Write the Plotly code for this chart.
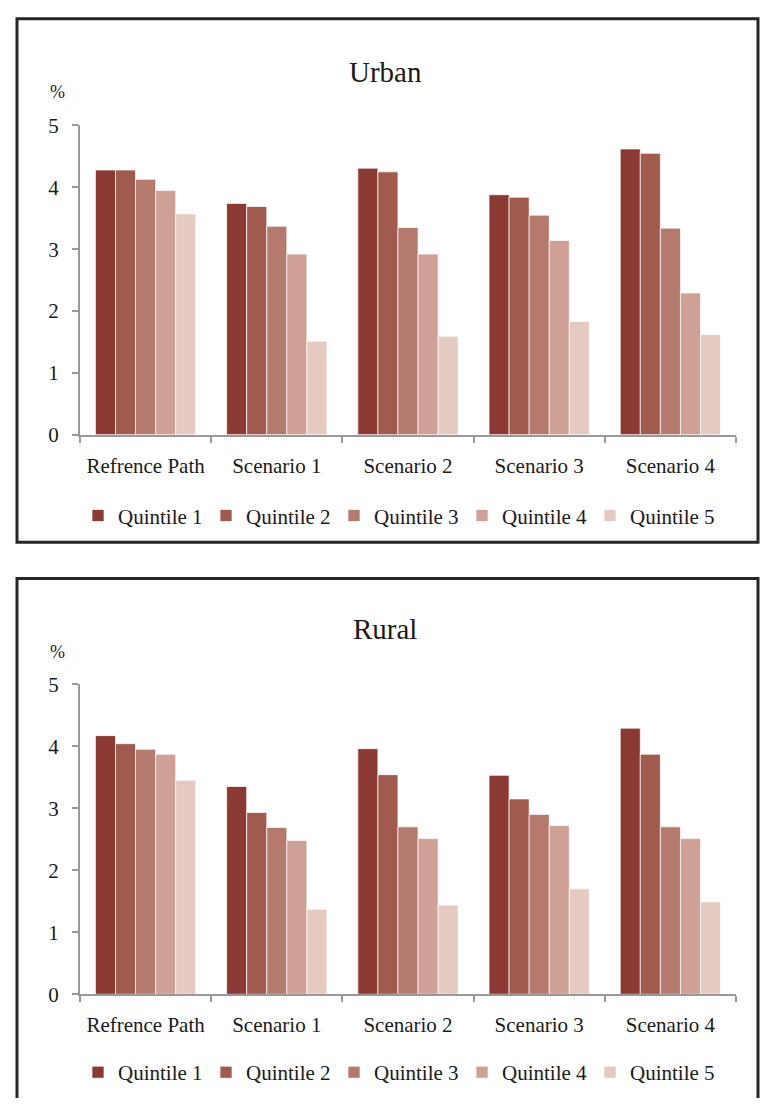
import plotly.graph_objects as go

categories = ["Refrence Path", "Scenario 1", "Scenario 2", "Scenario 3", "Scenario 4"]
series_names = ["Quintile 1", "Quintile 2", "Quintile 3", "Quintile 4", "Quintile 5"]

urban_q1 = [4.28, 3.74, 4.31, 3.88, 4.62]
urban_q2 = [4.28, 3.69, 4.25, 3.84, 4.55]
urban_q3 = [4.13, 3.37, 3.35, 3.55, 3.34]
urban_q4 = [3.95, 2.92, 2.92, 3.14, 2.29]
urban_q5 = [3.57, 1.51, 1.59, 1.83, 1.62]

rural_q1 = [4.17, 3.35, 3.96, 3.53, 4.29]
rural_q2 = [4.04, 2.93, 3.54, 3.15, 3.87]
rural_q3 = [3.95, 2.69, 2.70, 2.90, 2.70]
rural_q4 = [3.87, 2.48, 2.51, 2.72, 2.51]
rural_q5 = [3.45, 1.37, 1.44, 1.70, 1.49]

colors = ["#8B3A33", "#A05A4E", "#B57A6E", "#CEA096", "#E5CAC1"]

W, H = 764, 1110
def py(p):
    return 1 - p / H
def px(p):
    return p / W

FONT = "Liberation Serif"
TXT = "#1a1a1a"
AX = "#999999"

fig = go.Figure()
urban = [urban_q1, urban_q2, urban_q3, urban_q4, urban_q5]
rural = [rural_q1, rural_q2, rural_q3, rural_q4, rural_q5]
for i, name in enumerate(series_names):
    fig.add_trace(go.Bar(x=categories, y=urban[i], name=name, marker_color=colors[i],
                         marker_line=dict(color="rgba(255,255,255,0.7)", width=1),
                         xaxis="x", yaxis="y", legend="legend"))
for i, name in enumerate(series_names):
    fig.add_trace(go.Bar(x=categories, y=rural[i], name=name, marker_color=colors[i],
                         marker_line=dict(color="rgba(255,255,255,0.7)", width=1),
                         xaxis="x2", yaxis="y2", legend="legend2"))

xdom = [px(80), px(736)]
xaxis_common = dict(type="category", showline=True, linecolor=AX, linewidth=2,
                    ticks="outside", tickson="boundaries", ticklen=6, tickcolor=AX, tickwidth=2,
                    tickfont=dict(family=FONT, size=21, color=TXT), showgrid=False,
                    ticklabelstandoff=11, fixedrange=True)
yaxis_common = dict(range=[0, 5], dtick=1, showline=True, linecolor=AX, linewidth=2,
                    ticks="outside", ticklen=6, tickcolor=AX, tickwidth=2,
                    tickfont=dict(family=FONT, size=21, color=TXT), showgrid=False,
                    zeroline=False, ticklabelstandoff=9, fixedrange=True)

legend_common = dict(orientation="h", xanchor="left", x=px(78), yanchor="middle",
                     font=dict(family=FONT, size=21, color=TXT),
                     bgcolor="rgba(0,0,0,0)", itemclick=False, itemdoubleclick=False,
                     traceorder="normal", itemwidth=30,
                     entrywidth=83, entrywidthmode="pixels")

x0, x1 = px(17), px(758)
yb_bottom = py(1110)
yb_top = py(579)
fig.update_layout(
    width=W, height=H,
    margin=dict(l=0, r=0, t=0, b=0),
    font=dict(family=FONT, color=TXT),
    paper_bgcolor="white", plot_bgcolor="white",
    barmode="group", bargap=0.235, bargroupgap=0,
    xaxis=dict(domain=xdom, anchor="y", **xaxis_common),
    yaxis=dict(domain=[py(432), py(116)], anchor="x", **yaxis_common),
    xaxis2=dict(domain=xdom, anchor="y2", **xaxis_common),
    yaxis2=dict(domain=[py(1004), py(687)], anchor="x2", **yaxis_common),
    legend=dict(y=py(515), **legend_common),
    legend2=dict(y=py(1084), **legend_common),
    showlegend=True,
    shapes=[
        dict(type="rect", xref="paper", yref="paper", x0=x0, x1=x1, y0=py(542), y1=py(7),
             line=dict(color="#262626", width=3)),
        dict(type="path", xref="paper", yref="paper",
             path=f"M {x0},{yb_bottom} L {x0},{yb_top} L {x1},{yb_top} L {x1},{yb_bottom}",
             line=dict(color="#262626", width=3)),
    ],
    annotations=[
        dict(text="Urban", x=px(385), y=py(61), xref="paper", yref="paper", showarrow=False,
             font=dict(family=FONT, size=29, color=TXT), xanchor="center", yanchor="middle"),
        dict(text="Rural", x=px(385), y=py(631), xref="paper", yref="paper", showarrow=False,
             font=dict(family=FONT, size=29, color=TXT), xanchor="center", yanchor="middle"),
        dict(text="%", x=px(57), y=py(82), xref="paper", yref="paper", showarrow=False,
             font=dict(family=FONT, size=18, color=TXT), xanchor="center", yanchor="middle"),
        dict(text="%", x=px(57), y=py(654), xref="paper", yref="paper", showarrow=False,
             font=dict(family=FONT, size=18, color=TXT), xanchor="center", yanchor="middle"),
    ],
)

fig.write_html("out.html")
